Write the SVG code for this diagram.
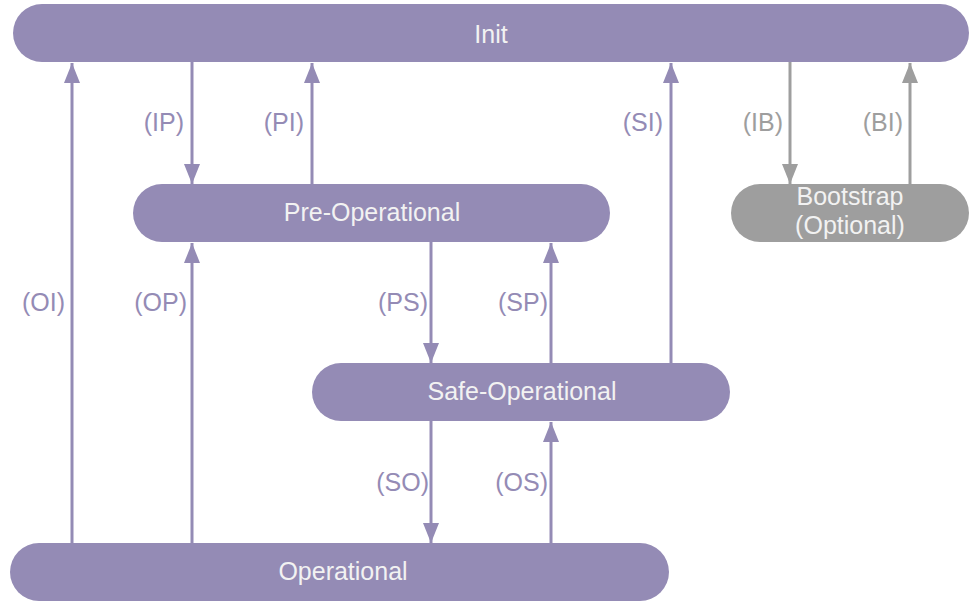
<svg xmlns="http://www.w3.org/2000/svg" width="980" height="606" viewBox="0 0 980 606">
<defs>
<marker id="ap" markerUnits="userSpaceOnUse" markerWidth="20" markerHeight="16" refX="20" refY="8" orient="auto" viewBox="0 0 20 16"><path d="M0,0 L20,8 L0,16 Z" fill="#948bb5"/></marker>
<marker id="ag" markerUnits="userSpaceOnUse" markerWidth="20" markerHeight="16" refX="20" refY="8" orient="auto" viewBox="0 0 20 16"><path d="M0,0 L20,8 L0,16 Z" fill="#9e9e9e"/></marker>
<style>
.n{fill:#948bb5}
.g{fill:#9e9e9e}
.t{font-family:"Liberation Sans",Arial,sans-serif;font-size:25px;fill:#f2f2f2;text-anchor:middle}
.l{font-family:"Liberation Sans",Arial,sans-serif;font-size:25px;fill:#948bb5;text-anchor:end}
.lg{fill:#9e9e9e}
.c{stroke:#948bb5;stroke-width:3;fill:none;marker-end:url(#ap)}
.cg{stroke:#9e9e9e;stroke-width:3;fill:none;marker-end:url(#ag)}
</style>
</defs>
<rect width="980" height="606" fill="#ffffff"/>
<g id="connectors">
<line class="c" x1="72" y1="543" x2="72" y2="63"/>
<line class="c" x1="192" y1="62" x2="192" y2="184"/>
<line class="c" x1="312" y1="184" x2="312" y2="63"/>
<line class="c" x1="192" y1="543" x2="192" y2="243"/>
<line class="c" x1="431" y1="242" x2="431" y2="363"/>
<line class="c" x1="551" y1="363" x2="551" y2="243"/>
<line class="c" x1="671" y1="363" x2="671" y2="63"/>
<line class="cg" x1="790" y1="62" x2="790" y2="184"/>
<line class="cg" x1="910" y1="184" x2="910" y2="63"/>
<line class="c" x1="431" y1="421" x2="431" y2="543"/>
<line class="c" x1="551" y1="543" x2="551" y2="422"/>
<text class="l" x="65" y="311">(OI)</text>
<text class="l" x="184" y="131">(IP)</text>
<text class="l" x="304" y="131">(PI)</text>
<text class="l" x="187" y="311">(OP)</text>
<text class="l" x="428" y="311">(PS)</text>
<text class="l" x="548" y="311">(SP)</text>
<text class="l" x="663" y="131">(SI)</text>
<text class="l lg" x="783" y="131">(IB)</text>
<text class="l lg" x="903" y="131">(BI)</text>
<text class="l" x="429" y="491">(SO)</text>
<text class="l" x="548" y="491">(OS)</text>
</g>
<g id="init"><rect class="n" x="13" y="4" width="956" height="58" rx="29"/><text class="t" x="491" y="43">Init</text></g>
<g id="preop"><rect class="n" x="133" y="184" width="477" height="58" rx="29"/><text class="t" x="372" y="221">Pre-Operational</text></g>
<g id="bootstrap"><rect class="g" x="731" y="184" width="238" height="58" rx="29"/><text class="t" x="850" y="205">Bootstrap</text><text class="t" x="850" y="234">(Optional)</text></g>
<g id="safeop"><rect class="n" x="312" y="363" width="418" height="58" rx="29"/><text class="t" x="522" y="400">Safe-Operational</text></g>
<g id="op"><rect class="n" x="10" y="543" width="659" height="58" rx="29"/><text class="t" x="343" y="580">Operational</text></g>
</svg>
